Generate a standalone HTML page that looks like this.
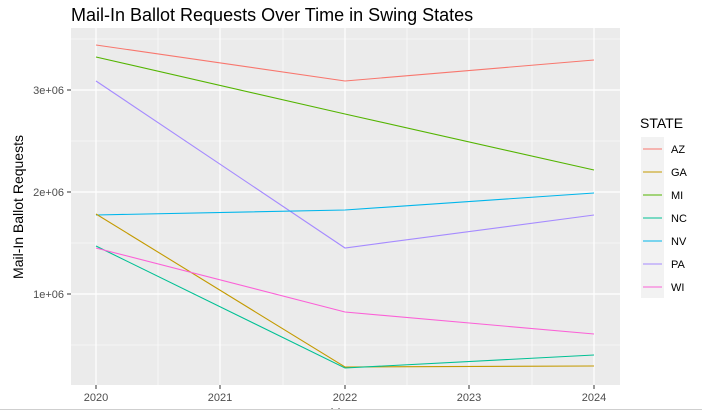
<!DOCTYPE html>
<html><head><meta charset="utf-8"><style>
body{margin:0;background:#fff;}
svg{display:block;font-family:"Liberation Sans",Arial,sans-serif;}
</style></head><body>
<svg width="702" height="413" xmlns="http://www.w3.org/2000/svg">
<rect width="702" height="413" fill="#fff"/>
<text x="71" y="21" font-size="18" fill="#000">Mail-In Ballot Requests Over Time in Swing States</text>
<rect x="71" y="28" width="549" height="357" fill="#EBEBEB"/>
<g stroke="#fff" stroke-width="0.6">
<line x1="71" x2="620" y1="39" y2="39"/><line x1="71" x2="620" y1="141" y2="141"/><line x1="71" x2="620" y1="243" y2="243"/><line x1="71" x2="620" y1="345" y2="345"/>
<line x1="158" x2="158" y1="28" y2="385"/><line x1="283" x2="283" y1="28" y2="385"/><line x1="407" x2="407" y1="28" y2="385"/><line x1="532" x2="532" y1="28" y2="385"/>
</g>
<g stroke="#fff" stroke-width="1.2">
<line x1="71" x2="620" y1="90" y2="90"/><line x1="71" x2="620" y1="192" y2="192"/><line x1="71" x2="620" y1="294" y2="294"/>
<line x1="96" x2="96" y1="28" y2="385"/><line x1="220" x2="220" y1="28" y2="385"/><line x1="345" x2="345" y1="28" y2="385"/><line x1="469" x2="469" y1="28" y2="385"/><line x1="594" x2="594" y1="28" y2="385"/>
</g>
<g fill="none" stroke-width="1.1">
<polyline stroke="#F8766D" points="96,45 345,81 594,60"/>
<polyline stroke="#53B400" points="96,57 345,114 594,170"/>
<polyline stroke="#A58AFF" points="96,81 345,248 594,215"/>
<polyline stroke="#00B6EB" points="96,215 345,210 594,193"/>
<polyline stroke="#C49A00" points="96,214 345,367 594,366"/>
<polyline stroke="#00C094" points="96,246 345,368 594,355"/>
<polyline stroke="#FB61D7" points="96,248 345,312 594,334"/>
</g>
<g stroke="#333" stroke-width="1">
<line x1="67" x2="71" y1="90" y2="90"/><line x1="67" x2="71" y1="192" y2="192"/><line x1="67" x2="71" y1="294" y2="294"/>
<line x1="96" x2="96" y1="385" y2="389"/><line x1="220" x2="220" y1="385" y2="389"/><line x1="345" x2="345" y1="385" y2="389"/><line x1="469" x2="469" y1="385" y2="389"/><line x1="594" x2="594" y1="385" y2="389"/>
</g>
<g font-size="11" fill="#4D4D4D" text-anchor="end">
<text x="64" y="94">3e+06</text><text x="64" y="196">2e+06</text><text x="64" y="298">1e+06</text>
</g>
<g font-size="11" fill="#4D4D4D" text-anchor="middle">
<text x="96" y="401">2020</text><text x="220" y="401">2021</text><text x="345" y="401">2022</text><text x="469" y="401">2023</text><text x="594" y="401">2024</text>
</g>
<text x="345" y="418" font-size="14" text-anchor="middle">Year</text>
<text transform="translate(23,207) rotate(-90)" font-size="14" text-anchor="middle">Mail-In Ballot Requests</text>
<text x="640" y="128" font-size="14">STATE</text>
<rect x="641" y="137" width="23" height="161" fill="#F2F2F2"/>
<g stroke-width="1.1">
<line x1="643" x2="662" y1="149" y2="149" stroke="#F8766D"/>
<line x1="643" x2="662" y1="172" y2="172" stroke="#C49A00"/>
<line x1="643" x2="662" y1="195" y2="195" stroke="#53B400"/>
<line x1="643" x2="662" y1="218" y2="218" stroke="#00C094"/>
<line x1="643" x2="662" y1="241" y2="241" stroke="#00B6EB"/>
<line x1="643" x2="662" y1="264" y2="264" stroke="#A58AFF"/>
<line x1="643" x2="662" y1="287" y2="287" stroke="#FB61D7"/>
</g>
<g font-size="11" fill="#000">
<text x="671" y="153">AZ</text><text x="671" y="176">GA</text><text x="671" y="199">MI</text><text x="671" y="222">NC</text><text x="671" y="245">NV</text><text x="671" y="268">PA</text><text x="671" y="291">WI</text>
</g>
<rect x="0" y="409" width="702" height="4" fill="#fff"/>
<line x1="0" x2="702" y1="409.5" y2="409.5" stroke="#CFCFCF" stroke-width="1"/>
</svg>
</body></html>
